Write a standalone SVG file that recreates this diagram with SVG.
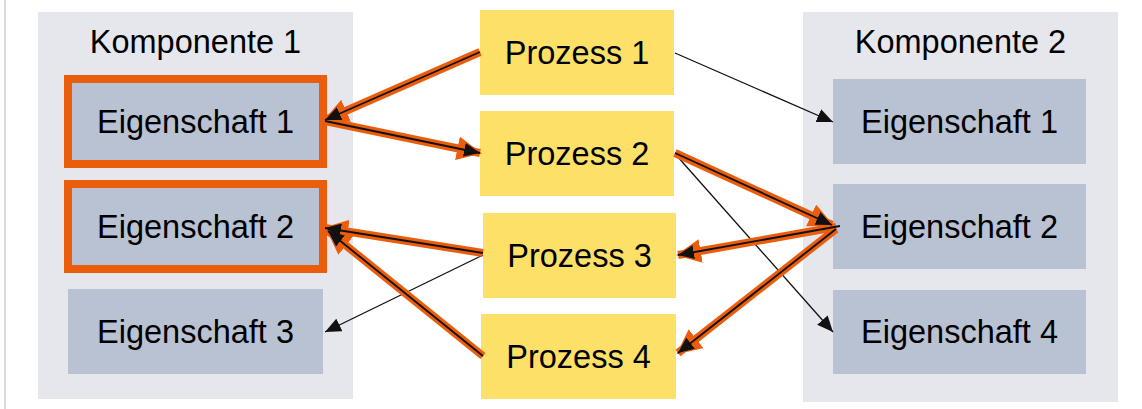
<svg xmlns="http://www.w3.org/2000/svg" width="1142" height="409" viewBox="0 0 1142 409">
<style>
.cont{fill:#e6e7ed}
.prop{fill:#b9c2d3}
.hl{fill:#b9c2d3;stroke:#ea5d0d;stroke-width:8}
.proc{fill:#fde068}
text{font-family:"Liberation Sans",Arial,sans-serif;font-size:32.5px;fill:#000;text-anchor:middle}
.thin{stroke:#111;stroke-width:1.3;fill:none;marker-end:url(#ab)}
.og{stroke:#ea5d0d;stroke-width:8;fill:none;marker-end:url(#ao)}
.ob{stroke:#111;stroke-width:1.8;fill:none;marker-end:url(#ab)}
</style>
<defs>
<marker id="ab" markerUnits="userSpaceOnUse" markerWidth="17" markerHeight="14" refX="16" refY="7" orient="auto"><path d="M0,0 L16,7 L0,14 z" fill="#111"/></marker>
<marker id="ao" markerUnits="userSpaceOnUse" markerWidth="26" markerHeight="24" refX="23" refY="12" orient="auto"><path d="M0,0 L25,12 L0,24 z" fill="#ea5d0d"/></marker>
</defs>
<rect width="1142" height="409" fill="#fff"/>
<line x1="5" y1="0" x2="5" y2="409" stroke="#d0d0d0" stroke-width="1.5"/>
<g id="komponente1">
<rect class="cont" x="38" y="12" width="315" height="387"/>
<text x="195.5" y="53">Komponente 1</text>
</g>
<g id="komponente2">
<rect class="cont" x="803" y="12" width="315" height="390"/>
<text x="960.5" y="53">Komponente 2</text>
</g>
<g id="k1e1"><rect class="hl" x="68" y="79" width="255" height="85"/><text x="195.5" y="133">Eigenschaft 1</text></g>
<g id="k1e2"><rect class="hl" x="68" y="184" width="255" height="85"/><text x="195.5" y="238">Eigenschaft 2</text></g>
<g id="k1e3"><rect class="prop" x="68" y="289" width="255" height="85"/><text x="195.5" y="343">Eigenschaft 3</text></g>
<g id="k2e1"><rect class="prop" x="833" y="79" width="253" height="85"/><text x="959.5" y="133">Eigenschaft 1</text></g>
<g id="k2e2"><rect class="prop" x="833" y="184" width="253" height="85"/><text x="959.5" y="238">Eigenschaft 2</text></g>
<g id="k2e4"><rect class="prop" x="833" y="290" width="253" height="84"/><text x="959.5" y="343">Eigenschaft 4</text></g>
<g id="p1"><rect class="proc" x="480" y="10" width="194" height="85"/><text x="577" y="64">Prozess 1</text></g>
<g id="p2"><rect class="proc" x="480" y="111" width="194" height="85"/><text x="577" y="165">Prozess 2</text></g>
<g id="p3"><rect class="proc" x="483" y="213" width="193" height="85"/><text x="579.5" y="267">Prozess 3</text></g>
<g id="p4"><rect class="proc" x="481" y="314" width="195" height="85"/><text x="578.5" y="368">Prozess 4</text></g>
<g id="connectors">
<line class="thin" x1="483" y1="255" x2="325" y2="332"/>
<line class="thin" x1="675" y1="53" x2="833" y2="122"/>
<line class="thin" x1="677" y1="156" x2="833" y2="332"/>
<line class="og" x1="480" y1="52" x2="325" y2="120"/>
<line class="og" x1="325" y1="121" x2="480" y2="153"/>
<line class="og" x1="483" y1="253" x2="325" y2="228"/>
<line class="og" x1="483" y1="356" x2="328" y2="231"/>
<line class="og" x1="675" y1="153" x2="832" y2="225"/>
<line class="og" x1="836" y1="227" x2="678" y2="255"/>
<line class="og" x1="836" y1="229" x2="678" y2="353"/>
<line class="ob" x1="480" y1="52" x2="325" y2="120"/>
<line class="ob" x1="325" y1="121" x2="480" y2="153"/>
<line class="ob" x1="483" y1="253" x2="325" y2="228"/>
<line class="ob" x1="483" y1="356" x2="328" y2="231"/>
<line class="ob" x1="675" y1="153" x2="832" y2="225"/>
<line class="ob" x1="840" y1="226" x2="678" y2="255"/>
<line class="ob" x1="836" y1="229" x2="678" y2="353"/>
</g>
</svg>
